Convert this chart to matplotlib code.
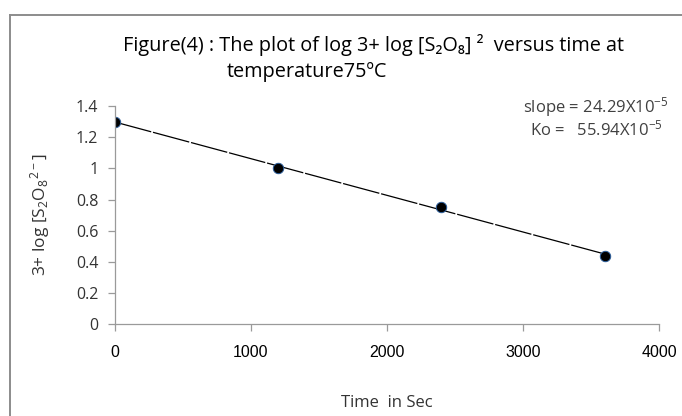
import numpy as np
import matplotlib.pyplot as plt
from matplotlib.lines import Line2D

plt.rcParams['mathtext.fontset'] = 'custom'
plt.rcParams['mathtext.rm'] = 'Open Sans'
plt.rcParams['mathtext.it'] = 'Open Sans'

# Data
time_s = [0, 1200, 2400, 3600]
log_conc = [1.30, 1.00, 0.755, 0.44]
x_ticks = [0, 1000, 2000, 3000, 4000]
y_ticks = [0, 0.2, 0.4, 0.6, 0.8, 1.0, 1.2, 1.4]
y_tick_labels = ['0', '0.2', '0.4', '0.6', '0.8', '1', '1.2', '1.4']

fig = plt.figure(figsize=(6.82, 4.16), dpi=100)
ax = fig.add_axes([0.1686, 0.221, 0.7977, 0.524])

# linear trendline through the points
m, c = np.polyfit(time_s, log_conc, 1)
xs = np.array([time_s[0], time_s[-1]])
ax.plot(xs, m * xs + c, color='black', linewidth=0.9, dashes=(30, 1.5))

ax.plot(time_s, log_conc, linestyle='none', marker='o', markersize=7.5,
        markerfacecolor='black', markeredgecolor='#2a5c9a', markeredgewidth=0.7)

ax.set_xlim(0, 4000)
ax.set_ylim(0, 1.4)
ax.set_xticks(x_ticks)
ax.set_xticklabels([str(v) for v in x_ticks], family='Liberation Sans', fontsize=11.5)
ax.set_yticks(y_ticks)
ax.set_yticklabels(y_tick_labels, family='Open Sans', fontsize=11.5, color='#333333')

for s in ['top', 'right']:
    ax.spines[s].set_visible(False)
for s in ['left', 'bottom']:
    ax.spines[s].set_color('#9a9a9a')
    ax.spines[s].set_linewidth(0.9)
ax.tick_params(axis='both', direction='out', length=5, color='#9a9a9a', width=0.9)
ax.tick_params(axis='x', pad=10)
ax.tick_params(axis='y', pad=7)

ax.set_ylabel(r'3+ log [S$_2$O$_8$$^{2-}$]', family='Open Sans', fontsize=12.5,
              color='#333333', labelpad=17)
ax.set_xlabel('Time  in Sec', family='Open Sans', fontsize=12, color='#333333',
              labelpad=25)

# title
fig.text(0.547, 0.892, 'Figure(4) : The plot of log 3+ log [S\u2082O\u2088] \u00b2  versus time at',
         ha='center', va='center', fontsize=14.3, family=['Open Sans', 'DejaVu Sans'])
fig.text(0.333, 0.827, 'temperature75\u00baC', ha='left', va='center', fontsize=14.3,
         family=['Open Sans', 'DejaVu Sans'])

# slope annotation
ax.text(1.017, 0.995, r'slope = 24.29X10$^{-5}$', transform=ax.transAxes,
        ha='right', va='center', fontsize=12, family='Open Sans', color='#404040')
ax.text(1.006, 0.893, r'Ko =   55.94X10$^{-5}$', transform=ax.transAxes,
        ha='right', va='center', fontsize=12, family='Open Sans', color='#404040')

# outer frame (only top and left edges are visible)
fig.add_artist(Line2D([10 / 682, 1], [1 - 15 / 416, 1 - 15 / 416], color='#8c8c8c',
                      linewidth=1.4, transform=fig.transFigure))
fig.add_artist(Line2D([10 / 682, 10 / 682], [0, 1 - 15 / 416], color='#8c8c8c',
                      linewidth=1.4, transform=fig.transFigure))

fig.savefig('out.png', dpi=100)
